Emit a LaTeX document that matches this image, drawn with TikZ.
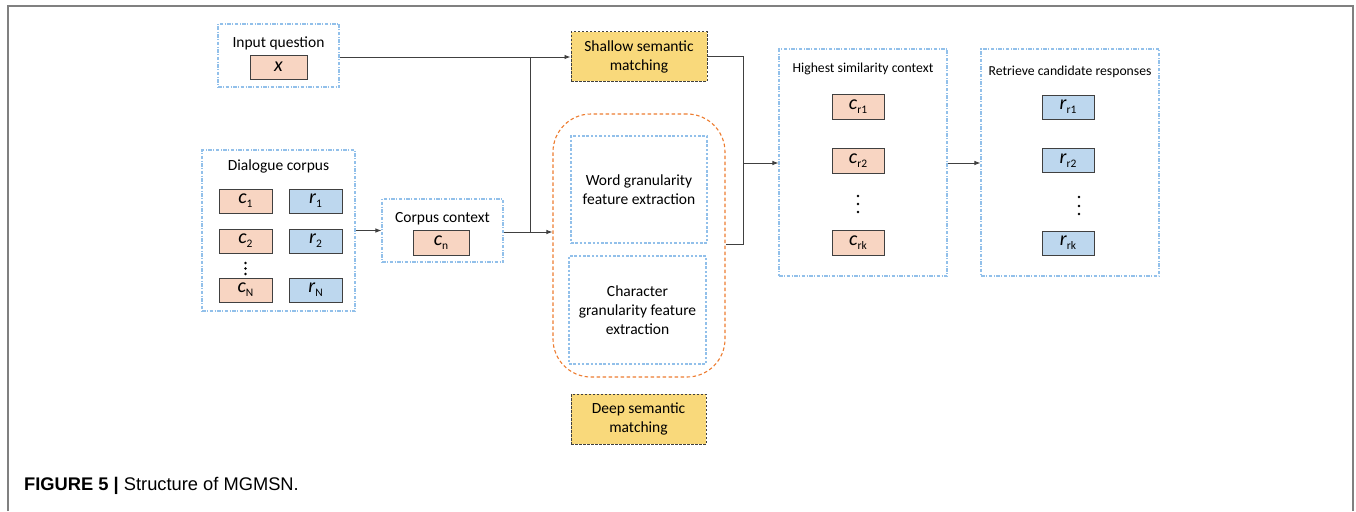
\documentclass[tikz,border=0pt]{standalone}
\usepackage{fontspec}
\setmainfont{Carlito}
\newfontfamily\capfont{Liberation Sans}
\usetikzlibrary{arrows.meta}
\definecolor{peach}{HTML}{F8D5C2}
\definecolor{lblue}{HTML}{BDD7EE}
\definecolor{ylw}{HTML}{F9D97B}
\definecolor{dashblue}{HTML}{92C0EA}
\definecolor{orng}{HTML}{ED7D31}
\definecolor{dk}{HTML}{404040}
\newcommand\vsub[2]{\textit{#1}\raisebox{-0.4ex}{\fontsize{11.5}{11.5}\selectfont #2}}
\tikzset{
  container/.style={draw=dashblue, line width=1.1pt, dash pattern=on 3.5pt off 1.5pt on 1pt off 1.5pt, fill=white, inner sep=0pt},
  inner/.style={draw=dashblue, line width=1.1pt, dash pattern=on 2.5pt off 1.8pt, inner sep=0pt, align=center, font=\fontsize{15.5}{19}\selectfont},
  cbox/.style={draw=dk, line width=0.8pt, fill=peach, minimum width=53pt, minimum height=24pt, inner sep=0pt, font=\fontsize{20}{20}\selectfont},
  rbox/.style={cbox, fill=lblue},
  ybox/.style={draw=dk, line width=1pt, dash pattern=on 2.5pt off 1.5pt, fill=ylw, inner sep=0pt, align=center, minimum width=136pt, minimum height=49pt, font=\fontsize{15.5}{19}\selectfont},
  ttl/.style={inner sep=0pt, font=\fontsize{15.5}{15.5}\selectfont},
  sttl/.style={inner sep=0pt, font=\fontsize{13.7}{14}\selectfont},
  dot/.style={fill=black},
  conn/.style={draw=dk, line width=0.9pt},
  arr/.style={conn, -{Latex[length=6pt,width=4.5pt]}},
  frame/.style={draw=gray, line width=1.3pt}
}
\begin{document}
\begin{tikzpicture}[x=1pt,y=-1pt]
\useasboundingbox (0,0) rectangle (1356,511);
\draw[frame] (8,511) -- (8,6) -- (1353,6) -- (1353,511);
% input question
\node[container, minimum width=121pt, minimum height=63pt] (iq) at (278.5,55.5) {};
\node[ttl] (iqt) at (278.5,43) {Input question};
\node[cbox, minimum width=57pt] (x) at (278.5,67) {\textit{x}};
% dialogue corpus
\node[container, minimum width=153pt, minimum height=161pt] (dc) at (278.5,230.5) {};
\node[ttl] (dct) at (278.5,166) {Dialogue corpus};
\node[cbox] (c1) at (245.5,201) {\vsub{c}{1}};
\node[rbox] (r1) at (315.5,201) {\vsub{r}{1}};
\node[cbox] (c2) at (245.5,241) {\vsub{c}{2}};
\node[rbox] (r2) at (315.5,241) {\vsub{r}{2}};
\foreach \yy in {263,268.5,274} \fill[dot] (245.5,\yy) circle (1.3pt);
\node[cbox] (cN) at (245.5,290) {\vsub{c}{N}};
\node[rbox] (rN) at (315.5,290) {\vsub{r}{N}};
% corpus context
\node[container, minimum width=121pt, minimum height=63pt] (cc) at (442.5,230.5) {};
\node[ttl] (cct) at (442.5,219) {Corpus context};
\node[cbox, minimum width=56pt, minimum height=25pt] (cn) at (441,242.5) {\vsub{c}{n}};
% shallow
\node[ybox] (ssm) at (639,56.5) {Shallow semantic\\matching};
% orange group
\node[draw=orng, line width=1.1pt, dash pattern=on 3.5pt off 2.5pt, rounded corners=38pt, minimum width=172pt, minimum height=263pt, inner sep=0pt] (og) at (639,245.5) {};
\node[inner, minimum width=136pt, minimum height=107pt] (wg) at (639,189.5) {Word granularity\\feature extraction};
\node[inner, minimum width=137pt, minimum height=108pt] (cg) at (637.5,310) {Character\\granularity feature\\extraction};
\node[ybox, minimum width=135pt, minimum height=50pt] (dsm) at (638.5,419) {Deep semantic\\matching};
% highest similarity
\node[container, minimum width=168pt, minimum height=227pt] (hs) at (863,162.5) {};
\node[sttl] (hst) at (863,69) {Highest similarity context};
\node[cbox, minimum width=52pt, minimum height=25pt] (cr1) at (858,106.5) {\vsub{c}{r1}};
\node[cbox, minimum width=52pt, minimum height=25pt] (cr2) at (858,160.5) {\vsub{c}{r2}};
\foreach \yy in {196,204,212} \fill[dot] (858,\yy) circle (1.3pt);
\node[cbox, minimum width=52pt, minimum height=25pt] (crk) at (858,243) {\vsub{c}{rk}};
% retrieve
\node[container, minimum width=178pt, minimum height=227pt] (rc) at (1070,162.5) {};
\node[sttl] (rct) at (1070,72) {Retrieve candidate responses};
\node[rbox, minimum width=52pt] (rr1) at (1068,107) {\vsub{r}{r1}};
\node[rbox, minimum width=52pt] (rr2) at (1068,160.5) {\vsub{r}{r2}};
\foreach \yy in {197,206,214} \fill[dot] (1079,\yy) circle (1.3pt);
\node[rbox, minimum width=52pt] (rrk) at (1068,243) {\vsub{r}{rk}};
% connectors
\coordinate (J1) at (530,57);
\coordinate (J2) at (530,232);
\coordinate (K) at (743,163);
\coordinate (K1) at (743,244);
\draw[arr] (iq.east |- J1) -- (ssm.west |- J1);
\draw[conn] (J2) -- (J1);
\draw[arr] (dc.east |- cc.west) -- (cc.west);
\draw[arr] (cc.east |- J2) -- (og.west |- J2);
\draw[conn] (ssm.east) -| (K1) -- (K1 -| og.east);
\draw[arr] (K) -- (hs.west |- K);
\draw[arr] (hs.east |- K) -- (rc.west |- K);
% caption
\node[anchor=base west, inner sep=0pt, font=\capfont\fontsize{18.3}{19}\selectfont] (cap) at (24,490) {\textbf{FIGURE 5 |} Structure of MGMSN.};
\end{tikzpicture}
\end{document}
